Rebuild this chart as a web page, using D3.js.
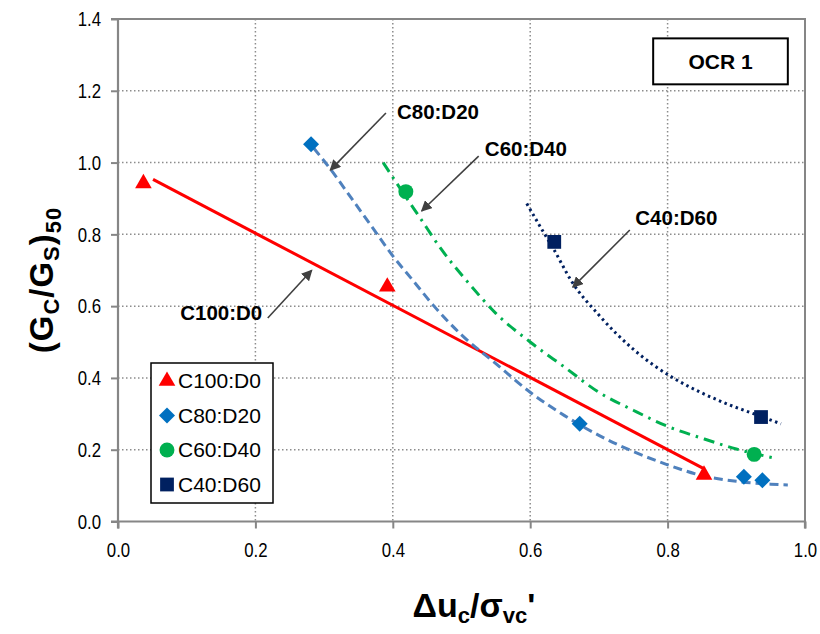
<!DOCTYPE html>
<html><head><meta charset="utf-8">
<script src="https://cdn.jsdelivr.net/npm/d3@7"></script>
<style>
body{margin:0;background:#fff;}
svg{display:block;font-family:Arial,"Liberation Sans",sans-serif;}
</style>
</head><body>
<svg id="chart" width="820" height="634"></svg>
<script>
// ---- data ----
const seriesNames = ["C100:D0","C80:D20","C60:D40","C40:D60"];
const c100x = [0.037, 0.392, 0.853];
const c100y = [0.942, 0.654, 0.130];
const c80x = [0.281, 0.672, 0.911, 0.938];
const c80y = [1.051, 0.272, 0.125, 0.115];
const c60x = [0.419, 0.926];
const c60y = [0.919, 0.187];
const c40x = [0.635, 0.936];
const c40y = [0.779, 0.291];
// trend lines
const t100x = [0.051, 0.854];
const t100y = [0.953, 0.146];
const t80x = [0.285,0.31,0.34,0.37,0.40,0.43,0.46,0.50,0.55,0.60,0.65,0.70,0.75,0.80,0.85,0.90,0.95,0.975];
const t80y = [1.04,0.98,0.90,0.82,0.74,0.67,0.60,0.52,0.44,0.36,0.295,0.24,0.195,0.158,0.128,0.112,0.104,0.102];
const t60x = [0.386,0.41,0.44,0.47,0.51,0.55,0.60,0.65,0.70,0.75,0.80,0.85,0.90,0.96];
const t60y = [1.0,0.93,0.845,0.76,0.665,0.58,0.50,0.43,0.36,0.31,0.265,0.232,0.202,0.175];
const t40x = [0.595,0.615,0.635,0.66,0.70,0.75,0.78,0.81,0.85,0.89,0.93,0.965];
const t40y = [0.886,0.82,0.756,0.67,0.575,0.48,0.435,0.398,0.358,0.325,0.297,0.272];
const xTicks = [0.0,0.2,0.4,0.6,0.8,1.0];
const yTicks = [0.0,0.2,0.4,0.6,0.8,1.0,1.2,1.4];
// annotations (data units): label, text x,y, arrow from, arrow to
const annLabels = ["C80:D20","C100:D0","C60:D40","C40:D60"];
const annTextX = [0.406, 0.210, 0.534, 0.753];
const annTextY = [1.140, 0.581, 1.037, 0.845];
const annAnchor = ["start","end","start","start"];
const annFromX = [0.390, 0.218, 0.525, 0.745];
const annFromY = [1.138, 0.567, 1.018, 0.812];
const annToX = [0.309, 0.282, 0.442, 0.662];
const annToY = [0.979, 0.700, 0.865, 0.653];

const colors = {red:"#FF0000", blue:"#0070C0", blueLine:"#4F81BD", green:"#00B050", navy:"#002060"};

const svg = d3.select("#chart");
const L=118, R=805, T=19, B=521.5;
const x = d3.scaleLinear().domain([0,1]).range([L,R]);
const y = d3.scaleLinear().domain([0,1.4]).range([B,T]);

// gridlines
const grid = svg.append("g");
grid.selectAll(".gx").data(xTicks.slice(1,-1)).enter().append("line")
  .attr("x1",d=>x(d)).attr("x2",d=>x(d)).attr("y1",T).attr("y2",B)
  .attr("stroke","#8c8c8c").attr("stroke-width",1.5).attr("stroke-dasharray","1.5,2.5");
grid.selectAll(".gy").data(yTicks.slice(1,-1)).enter().append("line")
  .attr("y1",d=>y(d)).attr("y2",d=>y(d)).attr("x1",L).attr("x2",R)
  .attr("stroke","#8c8c8c").attr("stroke-width",1.5).attr("stroke-dasharray","1.5,2.5");

// border top/right
svg.append("path").attr("d",`M${L},${T}H${R}V${B}`).attr("fill","none").attr("stroke","#868686").attr("stroke-width",2);

// axes
const xAxis = d3.axisBottom(x).tickValues(xTicks).tickFormat(d3.format(".1f")).tickSize(7).tickPadding(14);
const yAxis = d3.axisLeft(y).tickValues(yTicks).tickFormat(d3.format(".1f")).tickSize(7).tickPadding(10);
const gx = svg.append("g").attr("transform",`translate(0,${B})`).call(xAxis);
const gy = svg.append("g").attr("transform",`translate(${L},0)`).call(yAxis);
const sx = 0.8;
[gx,gy].forEach(g=>{
  g.select(".domain").attr("stroke","#868686").attr("stroke-width",2.2);
  g.selectAll(".tick line").attr("stroke","#868686").attr("stroke-width",2);
  g.selectAll(".tick text").attr("font-size",21).attr("fill","#000")
    .attr("font-family","Arial, 'Liberation Sans', sans-serif");
});
gx.selectAll(".tick text").attr("transform",`scale(${sx},1)`);
gy.selectAll(".tick text").attr("x",-17/sx).attr("transform",`scale(${sx},1)`);
gy.select(".domain").attr("d",`M-7,${T}H0V${B}H-7`);
gx.select(".domain").attr("d",`M${L},7V0H${R}V7`);

// trend lines
const line = d3.line().x(d=>x(d[0])).y(d=>y(d[1])).curve(d3.curveMonotoneX);
const zip=(a,b)=>a.map((v,i)=>[v,b[i]]);
svg.append("path").attr("d",line(zip(t100x,t100y))).attr("fill","none").attr("stroke",colors.red).attr("stroke-width",3);
svg.append("path").attr("d",line(zip(t80x,t80y))).attr("fill","none").attr("stroke",colors.blueLine).attr("stroke-width",3).attr("stroke-dasharray","9,5");
svg.append("path").attr("d",line(zip(t60x,t60y))).attr("fill","none").attr("stroke",colors.green).attr("stroke-width",3).attr("stroke-dasharray","11,6,2.5,6");
svg.append("path").attr("d",line(zip(t40x,t40y))).attr("fill","none").attr("stroke",colors.navy).attr("stroke-width",3).attr("stroke-dasharray","2.5,3.5");

// markers
const diamond = () => "M0,-8L8,0L0,8L-8,0Z";
const sym = {
  tri: d3.symbol().type(d3.symbolTriangle).size(120),
  dia: diamond,
  cir: d3.symbol().type(d3.symbolCircle).size(175),
  sq: d3.symbol().type(d3.symbolSquare).size(190)
};
function marks(xs,ys,s,c){
  svg.append("g").selectAll("path").data(zip(xs,ys)).enter().append("path")
    .attr("d",s).attr("transform",d=>`translate(${x(d[0])},${y(d[1])})`).attr("fill",c);
}
marks(c100x,c100y,sym.tri,colors.red);
marks(c80x,c80y,sym.dia,colors.blue);
marks(c60x,c60y,sym.cir,colors.green);
marks(c40x,c40y,sym.sq,colors.navy);

// arrows
const defs = svg.append("defs");
defs.append("marker").attr("id","ah").attr("viewBox","0 0 10 10").attr("refX",9).attr("refY",5)
  .attr("markerWidth",11).attr("markerHeight",11).attr("markerUnits","userSpaceOnUse").attr("orient","auto")
  .append("path").attr("d","M0,0L10,5L0,10z").attr("fill","#404040");
annLabels.forEach((lab,i)=>{
  svg.append("line").attr("x1",x(annFromX[i])).attr("y1",y(annFromY[i]))
    .attr("x2",x(annToX[i])).attr("y2",y(annToY[i]))
    .attr("stroke","#404040").attr("stroke-width",1.6).attr("marker-end","url(#ah)");
  svg.append("text").attr("x",x(annTextX[i])).attr("y",y(annTextY[i])).attr("dy","0.35em")
    .attr("text-anchor",annAnchor[i]).attr("font-weight","bold").attr("font-size",20.5).text(lab);
});

// OCR box
svg.append("rect").attr("x",x(0.779)).attr("y",y(1.346)).attr("width",x(0.975)-x(0.779)).attr("height",y(1.218)-y(1.346))
  .attr("fill","#fff").attr("stroke","#000").attr("stroke-width",2);
svg.append("text").attr("x",x(0.877)).attr("y",y(1.282)).attr("dy","0.35em").attr("text-anchor","middle")
  .attr("font-weight","bold").attr("font-size",21).text("OCR 1");

// legend
const lg = svg.append("g").attr("transform","translate(151,363)");
lg.append("rect").attr("width",122).attr("height",140).attr("fill","#fff").attr("stroke","#000").attr("stroke-width",1.5);
const lsyms=[sym.tri,sym.dia,sym.cir,sym.sq], lcols=[colors.red,colors.blue,colors.green,colors.navy];
seriesNames.forEach((n,i)=>{
  const yy = 18 + i*34.5;
  lg.append("path").attr("d",lsyms[i]).attr("transform",`translate(16,${yy})`).attr("fill",lcols[i]);
  lg.append("text").attr("x",27).attr("y",yy).attr("dy","0.35em").attr("font-size",21).text(n);
});

// axis titles
const yt = svg.append("text").attr("transform","translate(53,280) rotate(-90)").attr("text-anchor","middle")
  .attr("font-weight","bold").attr("font-size",33).attr("letter-spacing",1);
yt.append("tspan").text("(G");
yt.append("tspan").attr("font-size",22).attr("dy",6).text("C");
yt.append("tspan").attr("dy",-6).text("/G");
yt.append("tspan").attr("font-size",22).attr("dy",6).text("S");
yt.append("tspan").attr("dy",-6).text(")");
yt.append("tspan").attr("font-size",22).attr("dy",8).text("50");

const xt = svg.append("text").attr("x",474).attr("y",617).attr("text-anchor","middle")
  .attr("font-weight","bold").attr("font-size",34);
xt.append("tspan").text("Δu");
xt.append("tspan").attr("font-size",22).attr("dy",6).text("c");
xt.append("tspan").attr("dy",-6).text("/σ");
xt.append("tspan").attr("font-size",22).attr("dy",6).text("vc");
xt.append("tspan").attr("dy",-6).text("'");
</script>
</body></html>
